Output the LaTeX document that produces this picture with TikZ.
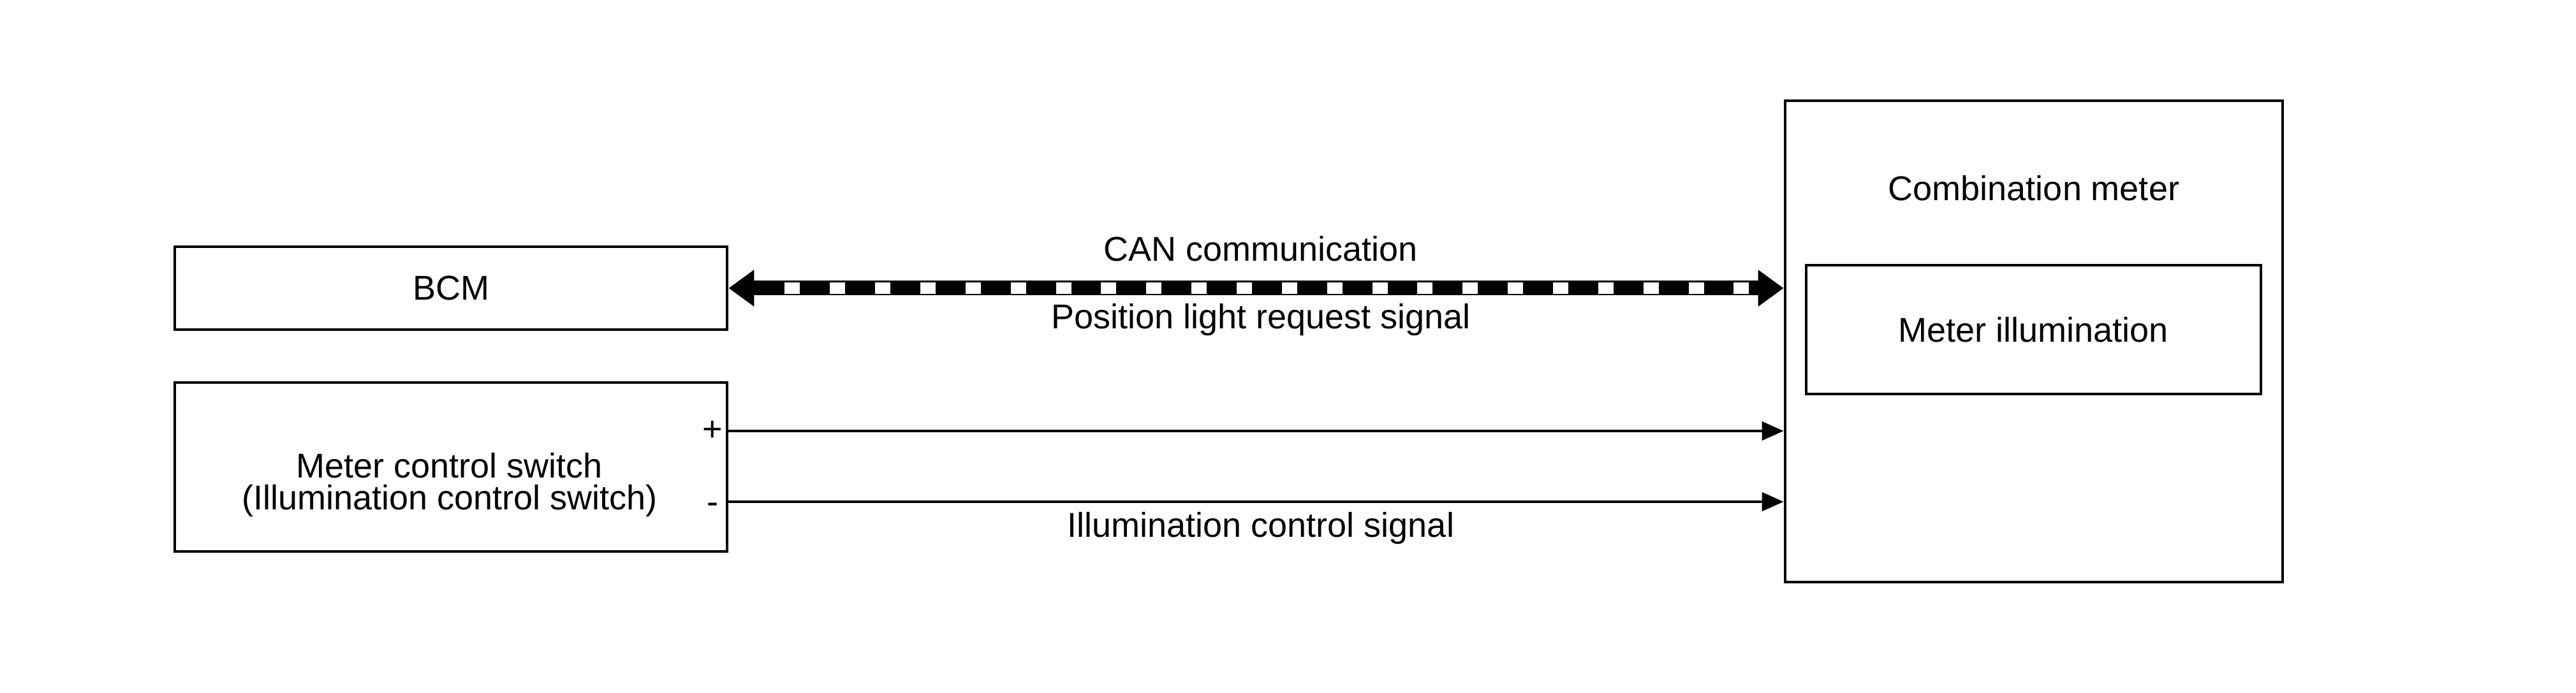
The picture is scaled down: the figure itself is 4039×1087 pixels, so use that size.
\documentclass[tikz,border=0pt]{standalone}
\usepackage{fontspec}
\setmainfont{Liberation Sans}
\usetikzlibrary{arrows.meta}
\begin{document}
\begin{tikzpicture}[x=0.25pt,y=-0.25pt,font=\fontsize{13.5}{12.5}\selectfont,
	unit/.style={draw, line width=1.2pt, inner sep=0pt},
	lbl/.style={inner sep=0pt, anchor=base},
	can/.style={line width=5.75pt, {Triangle[length=10pt,width=13.75pt]}-{Triangle[length=10pt,width=13.75pt]}},
	canmark/.style={draw=white, line width=4.5pt, dash pattern=on 6pt off 11.715pt, shorten <=22pt, shorten >=13.75pt},
	sig/.style={line width=1.2pt, -{Triangle[length=8.5pt,width=7.25pt]}}]
	\useasboundingbox (0,0) rectangle (4039,1087);
	\node (BCM)  at ( 707,  452)	[unit, minimum width=216.5pt, minimum height=32.5pt]	{BCM};
	\node (SW)   at ( 707,  732.5)	[unit, minimum width=216.5pt, minimum height=66.25pt]	{};
	\node (CM)   at (3189,  535.5)	[unit, minimum width=195pt, minimum height=188.75pt]	{};
	\node (ILL)  at (3188.5, 517)	[unit, minimum width=178.25pt, minimum height=50.5pt]	{Meter illumination};
	\node (SWt)  at ( 705,  800)	[lbl, align=center]	{Meter control switch\\(Illumination control switch)};
	\node (CMt)  at (3189,  315)	[lbl]	{Combination meter};
	\node (CANt) at (1977,  410)	[lbl]	{CAN communication};
	\node (POSt) at (1977,  516)	[lbl]	{Position light request signal};
	\node (ICSt) at (1977,  843)	[lbl]	{Illumination control signal};
	\node (plus) at (1117.5, 692)	[lbl]	{+};
	\node (minus) at (1117.5, 806)	[lbl]	{-};
	\coordinate (SWp) at ([yshift=14.125pt]SW.east);
	\coordinate (SWm) at ([yshift=-13.625pt]SW.east);
	\draw[can] (BCM.east) -- (BCM.east -| CM.west);
	\draw[canmark] (BCM.east) -- (BCM.east -| CM.west);
	\draw[sig] (SWp) -- (SWp -| CM.west);
	\draw[sig] (SWm) -- (SWm -| CM.west);
\end{tikzpicture}
\end{document}
